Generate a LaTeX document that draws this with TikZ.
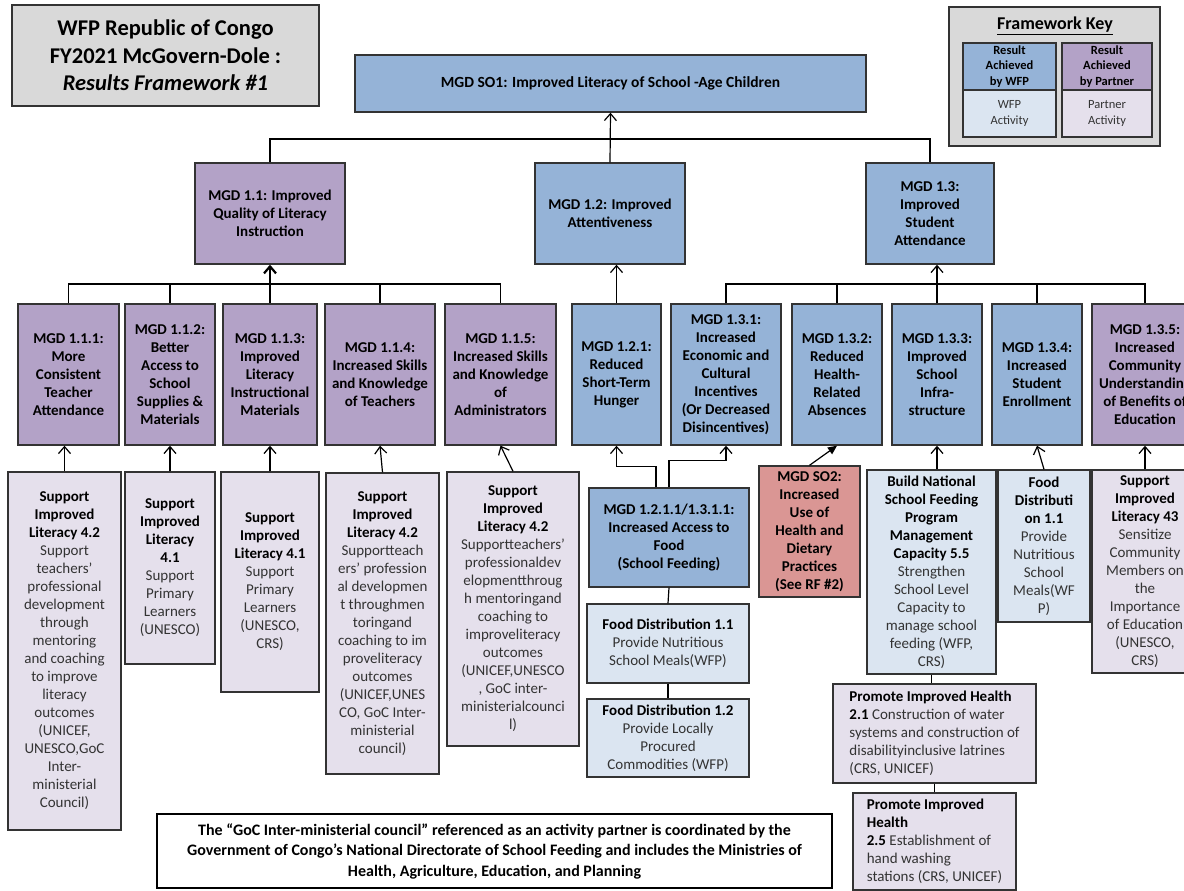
\documentclass[tikz,border=0pt]{standalone}
\usepackage{fontspec}
\setmainfont{Carlito}
\usetikzlibrary{arrows.meta}
\definecolor{wfpblue}{RGB}{149,179,215}
\definecolor{partpurple}{RGB}{179,162,199}
\definecolor{wfplight}{RGB}{219,229,241}
\definecolor{partlight}{RGB}{229,224,236}
\definecolor{sotwored}{RGB}{218,150,148}
\definecolor{keygray}{RGB}{217,217,217}
\newcommand{\mgdfont}{\fontsize{15}{18}\selectfont\bfseries}
\newcommand{\actfont}{\fontsize{15}{18}\selectfont}
\newcommand{\keyfont}{\fontsize{12.5}{15.5}\selectfont}
\newcommand{\acthead}[1]{\textbf{\textcolor{black}{#1}}}
\begin{document}
\begin{tikzpicture}[x=1pt,y=-1pt,
  box/.style={draw=black!80, line width=1.4pt, inner sep=2pt, align=center, font=\mgdfont},
  wh/.style 2 args={minimum width=#1, minimum height=#2},
  wfpres/.style={box, fill=wfpblue},
  partres/.style={box, fill=partpurple},
  wfpact/.style={box, fill=wfplight, font=\actfont, text=black!80},
  partact/.style={box, fill=partlight, font=\actfont, text=black!80},
  link/.style={line width=1.2pt},
  up/.style={link, -{Straight Barb[length=7pt,width=12pt]}}]
\clip (0,0) rectangle (1184,891);
\fill[white] (0,0) rectangle (1184,891);
%TITLE AND KEY
\node[box, fill=keygray, wh={307}{101}, font=\fontsize{22.5}{27.5}\selectfont\bfseries] (title) at (165.5,55.5) {WFP Republic of Congo\\FY2021 McGovern-Dole :\\\textit{Results Framework \#1}};
\node[box, fill=keygray, wh={211}{139}] (key) at (1054.5,76.5) {};
\node[font=\fontsize{18}{20}\selectfont\bfseries] (keytitle) at (1055,26) {\underline{Framework Key}};
\node[wfpres, inner sep=0pt, wh={93}{47}, font=\keyfont\bfseries] (kwr) at (1009.5,66.5) {Result\\Achieved\\by WFP};
\node[wfpact, inner sep=0pt, wh={93}{47}, font=\keyfont] (kwa) at (1009.5,113.5) {WFP\\Activity};
\node[partres, inner sep=0pt, wh={90}{47}, font=\keyfont\bfseries] (kpr) at (1107,66.5) {Result\\Achieved\\by Partner};
\node[partact, inner sep=0pt, wh={90}{47}, font=\keyfont] (kpa) at (1107,113.5) {Partner\\Activity};

%SO1 AND FIRST LEVEL
\node[wfpres, wh={511}{57}, font=\fontsize{15.5}{18}\selectfont\bfseries] (so1) at (610.5,83.5) {MGD SO1: Improved Literacy of School -Age Children};
\node[partres, wh={150}{101}] (m11) at (270,213.5) {MGD 1.1: Improved\\Quality of Literacy\\Instruction};
\node[wfpres, wh={150}{101}] (m12) at (610,213.5) {MGD 1.2: Improved\\Attentiveness};
\node[wfpres, wh={128}{101}] (m13) at (930,213.5) {MGD 1.3:\\Improved\\Student\\Attendance};
\coordinate (topbus) at (610.5,139);
\draw[link] (m11.north) |- (topbus) -| (m13.north);
\draw[up] (m12.north) -- (so1.south);

%SECOND LEVEL
\node[partres, wh={101}{141}] (m111) at (68.5,374.5) {MGD 1.1.1:\\More\\Consistent\\Teacher\\Attendance};
\node[partres, wh={90}{141}] (m112) at (170,374.5) {MGD 1.1.2:\\Better\\Access to\\School\\Supplies \&\\Materials};
\node[partres, wh={94}{141}] (m113) at (270,374.5) {MGD 1.1.3:\\Improved\\Literacy\\Instructional\\Materials};
\node[partres, wh={110}{141}] (m114) at (380,374.5) {MGD 1.1.4:\\Increased Skills\\and Knowledge\\of Teachers};
\node[partres, wh={111}{141}] (m115) at (500.5,374.5) {MGD 1.1.5:\\Increased Skills\\and Knowledge\\of\\Administrators};
\node[wfpres, wh={89}{141}] (m121) at (616.5,374.5) {MGD 1.2.1:\\Reduced\\Short-Term\\Hunger};
\node[wfpres, wh={110}{141}] (m131) at (726,374.5) {MGD 1.3.1:\\Increased\\Economic and\\Cultural\\Incentives\\(Or Decreased\\Disincentives)};
\node[wfpres, wh={90}{141}] (m132) at (837,374.5) {MGD 1.3.2:\\Reduced\\Health-\\Related\\Absences};
\node[wfpres, wh={90}{141}] (m133) at (937,374.5) {MGD 1.3.3:\\Improved\\School\\Infra-\\structure};
\node[wfpres, wh={90}{141}] (m134) at (1037,374.5) {MGD 1.3.4:\\Increased\\Student\\Enrollment};
\node[partres, wh={106}{141}] (m135) at (1145,374.5) {MGD 1.3.5:\\Increased\\Community\\Understanding\\of Benefits of\\Education};
\coordinate (bus11) at (270,284);
\coordinate (bus13) at (937,284);
\draw[link] (m111.north) |- (bus11) -| (m115.north);
\draw[link] (m131.north) |- (bus13) -| (m135.north);
\foreach \n in {m112,m114,m132,m134}
  \draw[link] (\n.north) -- (\n.north |- bus11);
\draw[up, line width=2.2pt] (m113.north) -- (m11.south);
\draw[up] (m121.north) -- (m121.north |- m12.south);
\draw[up] (m133.north) -- (m133.north |- m13.south);

%ACTIVITIES
\node[partact, wh={113}{358}] (a111) at (64.5,651) {\acthead{Support}\\\acthead{Improved}\\\acthead{Literacy 4.2}\\Support\\teachers’\\professional\\development\\through\\mentoring\\and coaching\\to improve\\literacy\\outcomes\\(UNICEF,\\UNESCO,GoC\\Inter-\\ministerial\\Council)};
\node[partact, wh={90}{192}] (a112) at (170,568) {\acthead{Support}\\\acthead{Improved}\\\acthead{Literacy}\\\acthead{4.1}\\Support\\Primary\\Learners\\(UNESCO)};
\node[partact, wh={98}{220}] (a113) at (270,582) {\acthead{Support}\\\acthead{Improved}\\\acthead{Literacy 4.1}\\Support\\Primary\\Learners\\(UNESCO,\\CRS)};
\node[partact, wh={113}{301}] (a114) at (382.5,623.5) {\acthead{Support}\\\acthead{Improved}\\\acthead{Literacy 4.2}\\Supportteach\\ers’ profession\\al developmen\\t throughmen\\toringand\\coaching to im\\proveliteracy\\outcomes\\(UNICEF,UNES\\CO, GoC Inter-\\ministerial\\council)};
\node[partact, wh={132}{274}] (a115) at (513,609) {\acthead{Support}\\\acthead{Improved}\\\acthead{Literacy 4.2}\\Supportteachers’\\professionaldev\\elopmentthroug\\h mentoringand\\coaching to\\improveliteracy\\outcomes\\(UNICEF,UNESCO\\, GoC inter-\\ministerialcounci\\l)};
\foreach \a/\m in {a111/m111,a112/m112,a113/m113}
  \draw[up] (\a.north) -- (\a.north |- \m.south);
\draw[up] (a114.north) -- (m114.south);
\draw[up] (a115.north) -- (m115.south);

%SCHOOL FEEDING
\node[wfpres, wh={160}{99}] (m1211) at (669,537.5) {MGD 1.2.1.1/1.3.1.1:\\Increased Access to\\Food\\(School Feeding)};
\node[wfpact, wh={162}{79}] (fd11) at (668,643.5) {\acthead{Food Distribution 1.1}\\Provide Nutritious\\School Meals(WFP)};
\node[wfpact, wh={162}{78}] (fd12) at (668,738) {\acthead{Food Distribution 1.2}\\Provide Locally\\Procured\\Commodities (WFP)};
\draw[up] ([xshift=-13pt]m1211.north) |- ([yshift=-21pt]m121.south) -- (m121.south);
\draw[up] (m1211.north) |- ([yshift=-15pt]m131.south) -- (m131.south);
\draw[link] (m1211.south) -- (fd11.north);
\draw[link] (fd11.south) -- (fd12.north);

%SO2 AND 1.3 ACTIVITIES
\node[box, fill=sotwored, wh={101}{131}] (so2) at (809.5,531.5) {MGD SO2:\\Increased\\Use of\\Health and\\Dietary\\Practices\\(See RF \#2)};
\draw[link, -{Triangle[length=9pt,width=8pt]}] (so2.north) -- (m132.south);
\node[wfpact, wh={129}{204}] (a133) at (931.5,572) {\acthead{Build National}\\\acthead{School Feeding}\\\acthead{Program}\\\acthead{Management}\\\acthead{Capacity 5.5}\\Strengthen\\School Level\\Capacity to\\manage school\\feeding (WFP,\\CRS)};
\node[wfpact, wh={92}{152}] (a134) at (1044,546) {\acthead{Food}\\\acthead{Distributi}\\\acthead{on 1.1}\\Provide\\Nutritious\\School\\Meals(WF\\P)};
\node[partact, wh={106}{203}] (a135) at (1145,571.5) {\acthead{Support}\\\acthead{Improved}\\\acthead{Literacy 43}\\Sensitize\\Community\\Members on\\the\\Importance\\of Education\\(UNESCO,\\CRS)};
\draw[up] (m133.south |- a133.north) -- (m133.south);
\draw[up] (a134.north) -- (m134.south);
\draw[up] (a135.north) -- (m135.south);
\node[partact, wh={203}{99}, align=left] (ph21) at (934.5,733.5) {\acthead{Promote Improved Health}\\\acthead{2.1} Construction of water\\systems and construction of\\disabilityinclusive latrines\\(CRS, UNICEF)};
\node[partact, wh={163}{97}, align=left] (ph25) at (934.5,841.5) {\acthead{Promote Improved}\\\acthead{Health}\\\acthead{2.5} Establishment of\\hand washing\\stations (CRS, UNICEF)};
\draw[link] (a133.south) -- (a133.south |- ph21.north);
\draw[link] (ph21.south) -- (ph25.north);

%NOTE
\node[box, fill=white, draw=black, line width=1.8pt, wh={675}{74}, font=\fontsize{16}{20.5}\selectfont\bfseries] (note) at (494.5,851) {The “GoC Inter-ministerial council” referenced as an activity partner is coordinated by the\\Government of Congo’s National Directorate of School Feeding and includes the Ministries of\\Health, Agriculture, Education, and Planning};
\end{tikzpicture}
\end{document}
